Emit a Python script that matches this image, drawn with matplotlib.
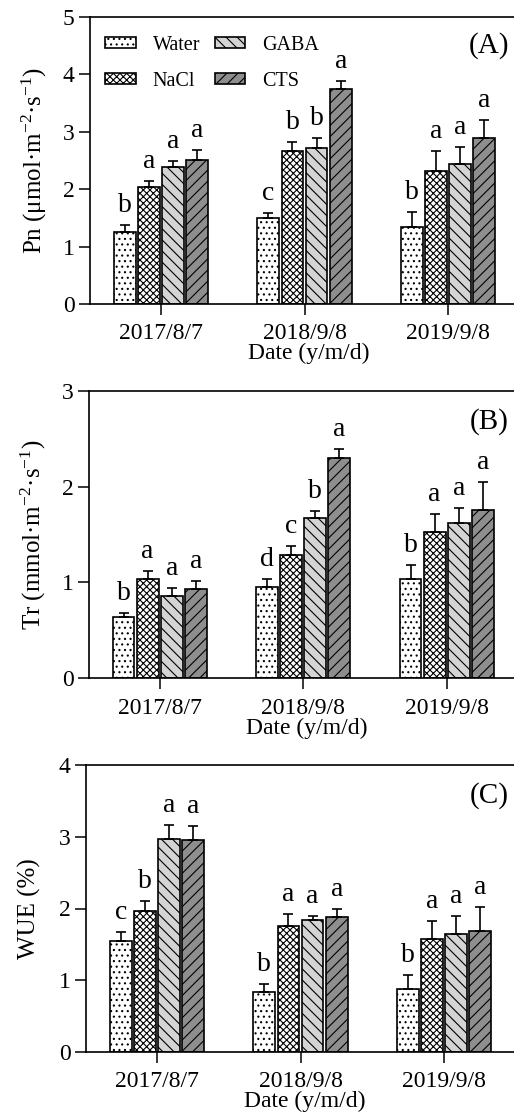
import matplotlib
matplotlib.use('Agg')
from matplotlib import pyplot as plt
import numpy as np

plt.rcParams['font.family'] = ['Liberation Serif', 'DejaVu Serif']
plt.rcParams['mathtext.fontset'] = 'custom'
plt.rcParams['mathtext.rm'] = 'Liberation Serif'
plt.rcParams['mathtext.default'] = 'regular'
plt.rcParams['hatch.linewidth'] = 0.8

dates = ['2017/8/7', '2018/9/8', '2019/9/8']
treatments = ['Water', 'NaCl', 'GABA', 'CTS']

# rows follow treatments, columns follow dates
pn_mean = [[1.25, 1.49, 1.35],
           [2.04, 2.67, 2.31],
           [2.38, 2.71, 2.44],
           [2.51, 3.74, 2.89]]
pn_err = [[0.12, 0.09, 0.26],
          [0.11, 0.15, 0.35],
          [0.12, 0.19, 0.30],
          [0.17, 0.15, 0.32]]
pn_letters = [['b', 'c', 'b'],
              ['a', 'b', 'a'],
              ['a', 'b', 'a'],
              ['a', 'a', 'a']]

tr_mean = [[0.64, 0.95, 1.04],
           [1.04, 1.29, 1.53],
           [0.86, 1.67, 1.62],
           [0.93, 2.30, 1.76]]
tr_err = [[0.04, 0.09, 0.14],
          [0.08, 0.09, 0.18],
          [0.08, 0.08, 0.16],
          [0.09, 0.09, 0.29]]
tr_letters = [['b', 'd', 'b'],
              ['a', 'c', 'a'],
              ['a', 'b', 'a'],
              ['a', 'a', 'a']]

wue_mean = [[1.55, 0.83, 0.88],
            [1.96, 1.76, 1.58],
            [2.97, 1.84, 1.64],
            [2.95, 1.88, 1.69]]
wue_err = [[0.12, 0.12, 0.19],
           [0.14, 0.16, 0.24],
           [0.19, 0.06, 0.25],
           [0.20, 0.11, 0.33]]
wue_letters = [['c', 'b', 'b'],
               ['b', 'a', 'a'],
               ['a', 'a', 'a'],
               ['a', 'a', 'a']]

styles = [
    dict(facecolor='white', hatch='...'),
    dict(facecolor='white', hatch='xxxxx'),
    dict(facecolor='#d4d4d4', hatch='\\\\\\'),
    dict(facecolor='#8e8e8e', hatch='///'),
]

W, H = 514, 1113
fig = plt.figure(figsize=(W / 100, H / 100), dpi=100)

XMIN, XMAX = -0.495, 2.55
PX_PER_UNIT = 143.5
PITCH = 0.168
BAR_W = 0.152


def panel(left, top, bottom, mean, err, letters, ymax, ylabel, tag,
          label_right, tag_y):
    width = (XMAX - XMIN) * PX_PER_UNIT
    ax = fig.add_axes([left / W, 1 - bottom / H, width / W, (bottom - top) / H])
    x = np.arange(len(dates))
    bars = []
    for i, name in enumerate(treatments):
        xi = x + (i - 1.5) * PITCH
        b = ax.bar(xi, mean[i], BAR_W, edgecolor='black', linewidth=1.2,
                   label=name, zorder=2, **styles[i])
        bars.append(b)
        ax.errorbar(xi, mean[i], yerr=[np.zeros(len(dates)), err[i]],
                    fmt='none', ecolor='black', elinewidth=1.2,
                    capsize=3.6, capthick=1.2, zorder=3)
        for xx, m, e, s in zip(xi, mean[i], err[i], letters[i]):
            ax.annotate(s, (xx, m + e), xytext=(0, 5),
                        textcoords='offset points', ha='center',
                        va='bottom', fontsize=20)
    ax.set_xlim(XMIN, XMAX)
    ax.set_ylim(0, ymax)
    ax.set_yticks(range(ymax + 1))
    ax.set_xticks(x)
    ax.set_xticklabels(dates)
    ax.spines['right'].set_visible(False)
    for s in ('left', 'top', 'bottom'):
        ax.spines[s].set_linewidth(1.2)
    ax.tick_params(axis='both', direction='out', length=8, width=1.1,
                   labelsize=17)
    ax.tick_params(axis='x', pad=6)
    ax.tick_params(axis='y', pad=3)
    ax.set_xlabel('Date (y/m/d)', fontsize=17, labelpad=-1)
    ax.set_ylabel(ylabel, fontsize=18)
    ax.yaxis.set_label_coords((label_right - left) / width, 0.5)
    ax.text((W - 5 - left) / width, tag_y, tag, transform=ax.transAxes,
            ha='right', va='center', fontsize=21)
    return ax, bars


axA, bars = panel(90, 17, 304, pn_mean, pn_err, pn_letters, 5,
                  'Pn (μmol·m$^{-2}$·s$^{-1}$)', '(A)', 49, 0.902)
axA.legend(handles=bars, ncol=2, loc='upper left',
           bbox_to_anchor=(0.035, 0.935), frameon=False, fontsize=14.5,
           handlelength=1.5, handleheight=0.4, handletextpad=0.85,
           columnspacing=0.75, labelspacing=0.85, borderpad=0,
           borderaxespad=0)

panel(88.7, 390.7, 678.3, tr_mean, tr_err, tr_letters, 3,
      'Tr (mmol·m$^{-2}$·s$^{-1}$)', '(B)', 48, 0.892)
panel(86, 765, 1052, wue_mean, wue_err, wue_letters, 4,
      'WUE (%)', '(C)', 41, 0.895)

fig.savefig('out.png', dpi=100)
